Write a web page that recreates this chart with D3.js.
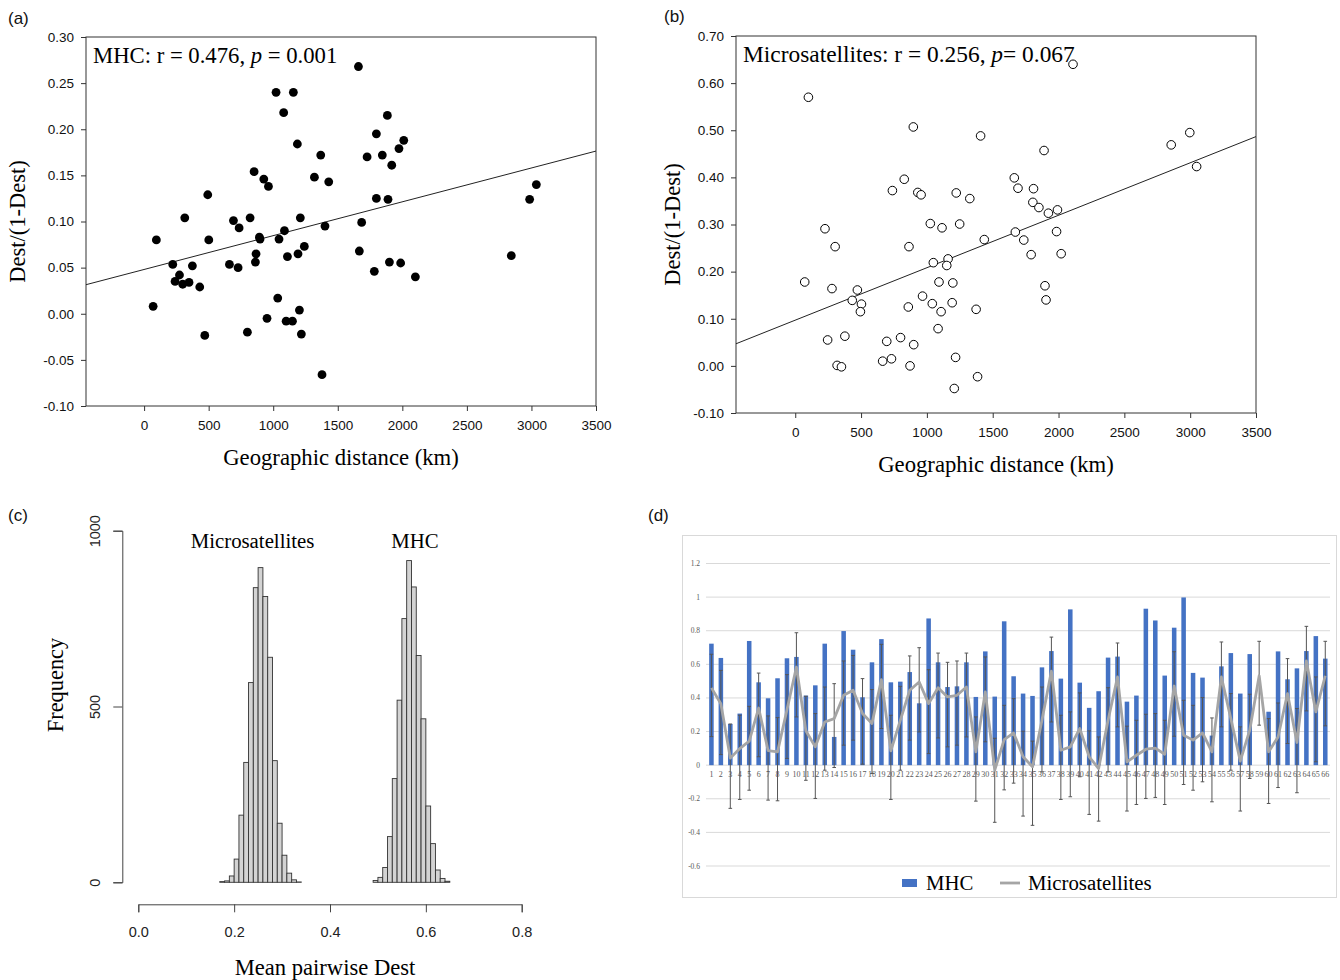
<!DOCTYPE html>
<html><head><meta charset="utf-8">
<script src="https://cdn.jsdelivr.net/npm/d3@7"></script>
<style>body{margin:0;background:#fff;} svg{display:block;}</style>
</head><body><svg id="c" width="1340" height="980"></svg>
<script>
// ---------------- DATA ----------------
// (a) MHC: geographic distance (km) vs Dest/(1-Dest)
const mhcDistance = [1660,1022,1156,1081,1884,1799,2011,1974,1187,1368,1727,1845,1918,1319,1430,852,927,963,493,1799,1889,3038,2986,315,692,821,1210,736,1685,1401,1087,893,898,1045,95,501,1241,867,1192,862,1110,1667,2844,222,374,661,728,1900,1987,1783,2101,274,240,299,348,431,70,1035,1203,952,1100,1149,800,1218,470,1378];
const mhcDest = [0.268,0.240,0.240,0.218,0.215,0.195,0.188,0.179,0.184,0.172,0.170,0.172,0.161,0.148,0.143,0.154,0.146,0.138,0.129,0.125,0.124,0.140,0.124,0.104,0.101,0.104,0.104,0.093,0.099,0.095,0.090,0.083,0.081,0.081,0.080,0.080,0.073,0.065,0.065,0.056,0.062,0.068,0.063,0.0535,0.052,0.0535,0.050,0.056,0.055,0.046,0.040,0.042,0.035,0.032,0.034,0.029,0.008,0.017,0.004,-0.005,-0.008,-0.008,-0.020,-0.022,-0.0235,-0.066];
const mhcRegression = [0.048, 3.667e-5]; // intercept, slope

// (b) Microsatellites
const msatDistance = [2110,100,897,1408,2997,2856,1890,3049,1664,1692,1810,828,738,931,956,1223,1326,1805,1851,1923,1992,1026,1115,1249,226,1985,1672,1736,1436,303,864,1792,2020,1161,1049,1151,72,279,472,1092,1197,1897,433,503,495,967,1041,1192,859,1108,1374,1905,1085,377,246,695,800,900,664,731,318,351,872,1218,1385,1208];
const msatDest = [0.640,0.570,0.507,0.488,0.495,0.469,0.457,0.423,0.399,0.377,0.376,0.396,0.372,0.368,0.363,0.367,0.355,0.347,0.336,0.324,0.331,0.302,0.293,0.301,0.291,0.285,0.284,0.267,0.268,0.253,0.253,0.236,0.238,0.227,0.219,0.213,0.178,0.164,0.161,0.178,0.176,0.170,0.139,0.131,0.115,0.148,0.132,0.134,0.125,0.115,0.120,0.140,0.079,0.063,0.055,0.052,0.060,0.045,0.010,0.015,0.001,-0.002,0.000,0.018,-0.023,-0.048];
const msatRegression = [0.097, 1.113e-4];

const distTicks = [0,500,1000,1500,2000,2500,3000,3500];
const mhcDestTicks = [-0.10,-0.05,0,0.05,0.10,0.15,0.20,0.25,0.30];
const msatDestTicks = [-0.10,0,0.10,0.20,0.30,0.40,0.50,0.60,0.70];

// (c) permutation histograms of mean pairwise Dest (bin width 0.01)
const histMsatStart = [0.17,0.18,0.19,0.20,0.21,0.22,0.23,0.24,0.25,0.26,0.27,0.28,0.29,0.30,0.31,0.32,0.33];
const histMsatCount = [2,4,18,66,191,341,568,838,895,813,640,346,168,77,26,7,1];
const histMhcStart = [0.49,0.50,0.51,0.52,0.53,0.54,0.55,0.56,0.57,0.58,0.59,0.60,0.61,0.62,0.63,0.64];
const histMhcCount = [5,14,42,130,295,518,750,915,840,645,465,217,110,35,11,3];
const histXTicks = [0,0.2,0.4,0.6,0.8];
const histYTicks = [0,500,1000];

// (d) per population pair
const pairs = d3.range(1,67).map(String);
const mhcBar = [0.723,0.638,0.245,0.307,0.739,0.493,0.398,0.517,0.636,0.644,0.414,0.475,0.723,0.168,0.798,0.687,0.404,0.612,0.750,0.493,0.497,0.554,0.368,0.873,0.612,0.465,0.469,0.612,0.406,0.677,0.408,0.856,0.529,0.426,0.412,0.582,0.679,0.515,0.927,0.491,0.341,0.440,0.640,0.646,0.378,0.414,0.931,0.861,0.533,0.818,0.998,0.549,0.521,0.176,0.588,0.667,0.426,0.661,null,0.318,0.677,0.511,0.576,0.679,0.768,0.634];
const msatLine = [0.46,0.366,0.042,0.099,0.143,0.34,0.087,0.079,0.33,0.584,0.205,0.109,0.257,0.277,0.416,0.446,0.307,0.248,0.509,0.085,0.267,0.446,0.495,0.366,0.461,0.406,0.416,0.465,0.079,0.436,-0.03,0.152,0.192,0.05,-0.01,0.267,0.56,0.089,0.109,0.218,0.05,-0.02,0.267,0.525,0.02,0.059,0.095,0.101,0.065,0.471,0.178,0.149,0.192,0.079,0.525,0.277,0.024,0.208,0.532,0.08,0.168,0.426,0.135,0.62,0.317,0.532];
const errLow = [0.17,0.063,-0.257,-0.204,-0.149,0.05,-0.208,-0.212,0.04,0.287,-0.09,-0.198,-0.03,-0.014,0.119,0.149,0.006,-0.05,0.218,-0.204,-0.03,0.149,0.198,0.069,0.162,0.109,0.119,0.168,-0.214,0.139,-0.34,-0.147,-0.107,-0.303,-0.358,-0.04,0.257,-0.204,-0.188,-0.069,-0.293,-0.333,-0.04,0.228,-0.273,-0.234,-0.198,-0.192,-0.234,0.172,-0.115,-0.149,-0.099,-0.218,0.228,-0.03,-0.273,-0.079,0.238,-0.228,-0.133,0.129,-0.164,0.323,0.02,0.234];
const errHigh = [0.66,0.564,0.245,0.297,0.35,0.548,0.293,0.283,0.539,0.788,0.41,0.307,0.465,0.485,0.62,0.653,0.515,0.45,0.719,0.297,0.469,0.65,0.699,0.568,0.667,0.612,0.62,0.667,0.287,0.644,0.16,0.356,0.396,0.202,0.143,0.465,0.762,0.297,0.317,0.43,0.204,0.168,0.461,0.727,0.232,0.267,0.303,0.307,0.267,0.675,0.386,0.356,0.402,0.281,0.733,0.426,0.228,0.422,0.737,0.277,0.37,0.634,0.337,0.826,0.525,0.737];
const dYTicks = [-0.6,-0.4,-0.2,0,0.2,0.4,0.6,0.8,1,1.2];

// ---------------- DRAW ----------------
const svg = d3.select('#c');
svg.append('rect').attr('width',1340).attr('height',980).attr('fill','#fff');
const SERIF = '"Liberation Serif","Times New Roman",serif';
const SANS = '"Liberation Sans",Arial,sans-serif';

function panelLabel(t,x,y){
  svg.append('text').attr('x',x).attr('y',y).attr('font-family',SANS).attr('font-size',17).attr('fill','#111').text(t);
}
panelLabel('(a)',8,24); panelLabel('(b)',664,22); panelLabel('(c)',8,521); panelLabel('(d)',648,521);

function scatter(o){
  const x = d3.scaleLinear().domain([-450,3500]).range([o.left,o.right]);
  const y = d3.scaleLinear().domain(o.yDomain).range([o.bottom,o.top]);
  const g = svg.append('g');
  const ya = g.append('g').attr('transform',`translate(${o.left},0)`)
    .call(d3.axisLeft(y).tickValues(o.yTicks).tickFormat(d=>d.toFixed(2)).tickSize(5).tickPadding(7));
  const xa = g.append('g').attr('transform',`translate(0,${o.bottom})`)
    .call(d3.axisBottom(x).tickValues(distTicks).tickFormat(d=>String(d)).tickSize(5).tickPadding(9));
  [ya,xa].forEach(a=>{a.select('.domain').remove();
    a.selectAll('text').attr('font-family',SANS).attr('font-size',13.5).attr('fill','#111');
    a.selectAll('line').attr('stroke','#333');});
  g.append('rect').attr('x',o.left).attr('y',o.top).attr('width',o.right-o.left).attr('height',o.bottom-o.top)
    .attr('fill','none').attr('stroke','#333').attr('stroke-width',1);
  const [b0,b1] = o.reg;
  g.append('line').attr('x1',x(-450)).attr('y1',y(b0+b1*-450)).attr('x2',x(3500)).attr('y2',y(b0+b1*3500))
    .attr('stroke','#222').attr('stroke-width',1);
  g.selectAll('circle.pt').data(o.xs).join('circle').attr('class','pt')
    .attr('cx',d=>x(d)).attr('cy',(d,i)=>y(o.ys[i])).attr('r',o.filled?4.4:4.3)
    .attr('fill',o.filled?'#000':'#fff').attr('stroke','#000').attr('stroke-width',o.filled?0:1);
  const lbl = g.append('text').attr('x',o.left+7).attr('y',o.top+26).attr('font-family',SERIF).attr('font-size',o.lblSize).attr('fill','#000');
  o.label.forEach(s=>lbl.append('tspan').attr('font-style',s[1]?'italic':'normal').text(s[0]));
  g.append('text').attr('x',(o.left+o.right)/2).attr('y',o.bottom+59).attr('text-anchor','middle')
    .attr('font-family',SERIF).attr('font-size',22.7).text('Geographic distance (km)');
  g.append('text').attr('transform',`translate(${o.ytx},${(o.top+o.bottom)/2}) rotate(-90)`).attr('text-anchor','middle')
    .attr('font-family',SERIF).attr('font-size',22.5).text('Dest/(1-Dest)');
}
scatter({left:86,right:596,top:37,bottom:406,yDomain:[-0.1,0.3],yTicks:mhcDestTicks,xs:mhcDistance,ys:mhcDest,
  reg:mhcRegression,filled:true,label:[['MHC: r = 0.476, ',false],['p',true],[' = 0.001',false]],ytx:25,lblSize:22.7});
scatter({left:736,right:1256,top:36,bottom:413,yDomain:[-0.1,0.7],yTicks:msatDestTicks,xs:msatDistance,ys:msatDest,
  reg:msatRegression,filled:false,label:[['Microsatellites: r = 0.256, ',false],['p',true],['= 0.067',false]],ytx:680,lblSize:23.4});

// (c) histograms
(function(){
  const x = d3.scaleLinear().domain([0,0.8]).range([138.3,521.7]);
  const y = d3.scaleLinear().domain([0,1000]).range([882.3,530.7]);
  const g = svg.append('g');
  const drawHist = (starts,counts)=>{
    g.append('g').selectAll('rect').data(starts).join('rect')
      .attr('x',d=>x(d)).attr('width',d=>x(d+0.01)-x(d))
      .attr('y',(d,i)=>y(counts[i])).attr('height',(d,i)=>y(0)-y(counts[i]))
      .attr('fill','#d3d3d3').attr('stroke','#333').attr('stroke-width',0.9);
  };
  drawHist(histMsatStart,histMsatCount);
  drawHist(histMhcStart,histMhcCount);
  const ya = g.append('g').attr('transform','translate(122.3,0)')
    .call(d3.axisLeft(y).tickValues(histYTicks).tickFormat(d=>String(d)).tickSizeOuter(0).tickSize(9).tickPadding(6));
  ya.selectAll('text').attr('transform','rotate(-90)').attr('text-anchor','middle').attr('x',0).attr('y',-22).attr('dy','0');
  const xa = g.append('g').attr('transform','translate(0,904.3)')
    .call(d3.axisBottom(x).tickValues(histXTicks).tickFormat(d=>d.toFixed(1)).tickSizeOuter(0).tickSize(8).tickPadding(14));
  [ya,xa].forEach(a=>{a.selectAll('text').attr('font-family',SANS).attr('font-size',14.5).attr('fill','#222');
    a.selectAll('line,path').attr('stroke','#444');});
  g.append('text').attr('x',252.5).attr('y',548).attr('text-anchor','middle').attr('font-family',SERIF).attr('font-size',20.8).text('Microsatellites');
  g.append('text').attr('x',415).attr('y',548).attr('text-anchor','middle').attr('font-family',SERIF).attr('font-size',20.8).text('MHC');
  g.append('text').attr('transform','translate(63,685) rotate(-90)').attr('text-anchor','middle').attr('font-family',SERIF).attr('font-size',22.4).text('Frequency');
  g.append('text').attr('x',325).attr('y',975).attr('text-anchor','middle').attr('font-family',SERIF).attr('font-size',22.6).text('Mean pairwise Dest');
})();

// (d) bars + line
(function(){
  const g = svg.append('g');
  g.append('rect').attr('x',682.5).attr('y',535.5).attr('width',654).attr('height',362).attr('fill','#fff').attr('stroke','#d9d9d9');
  const x = d3.scaleBand().domain(pairs).range([706.7,1330]).paddingInner(0.52).paddingOuter(0.26);
  const y = d3.scaleLinear().domain([-0.6,1.2]).range([866,563.5]);
  g.append('g').selectAll('line').data(dYTicks).join('line')
    .attr('x1',706).attr('x2',1330).attr('y1',d=>y(d)).attr('y2',d=>y(d)).attr('stroke','#d9d9d9').attr('stroke-width',1);
  g.append('g').selectAll('text').data(dYTicks).join('text')
    .attr('x',700).attr('y',d=>y(d)+2.5).attr('text-anchor','end').attr('font-family',SERIF).attr('font-size',7.5).attr('fill','#595959')
    .text(d=>Math.abs(d)<1e-9?'0':(Number.isInteger(d)?String(d):d.toFixed(1)));
  const cx = p=>x(p)+x.bandwidth()/2;
  g.append('g').selectAll('rect').data(pairs.filter((p,i)=>mhcBar[i]!=null)).join('rect')
    .attr('x',p=>x(p)).attr('width',x.bandwidth())
    .attr('y',p=>y(mhcBar[+p-1])).attr('height',p=>y(0)-y(mhcBar[+p-1])).attr('fill','#4472c4');
  g.append('g').selectAll('text').data(pairs).join('text')
    .attr('x',cx).attr('y',777).attr('text-anchor','middle').attr('font-family',SERIF).attr('font-size',8).attr('fill','#595959').text(p=>p);
  const eb = g.append('g').attr('stroke','#555').attr('stroke-width',1);
  pairs.forEach((p,i)=>{
    const c = cx(p);
    eb.append('line').attr('x1',c).attr('x2',c).attr('y1',y(errLow[i])).attr('y2',y(errHigh[i]));
    eb.append('line').attr('x1',c-1.8).attr('x2',c+1.8).attr('y1',y(errLow[i])).attr('y2',y(errLow[i]));
    eb.append('line').attr('x1',c-1.8).attr('x2',c+1.8).attr('y1',y(errHigh[i])).attr('y2',y(errHigh[i]));
  });
  const line = d3.line().x(d=>cx(d)).y(d=>y(msatLine[+d-1]));
  g.append('path').attr('d',line(pairs)).attr('fill','none').attr('stroke','#a5a5a5').attr('stroke-width',2.8).attr('stroke-linejoin','round');
  // legend
  g.append('rect').attr('x',902).attr('y',879).attr('width',15).attr('height',8).attr('fill','#4472c4');
  g.append('text').attr('x',926).attr('y',890).attr('font-family',SERIF).attr('font-size',20.8).text('MHC');
  g.append('line').attr('x1',1000).attr('x2',1020).attr('y1',883).attr('y2',883).attr('stroke','#a5a5a5').attr('stroke-width',2.8);
  g.append('text').attr('x',1028).attr('y',890).attr('font-family',SERIF).attr('font-size',20.8).text('Microsatellites');
})();
</script></body></html>
